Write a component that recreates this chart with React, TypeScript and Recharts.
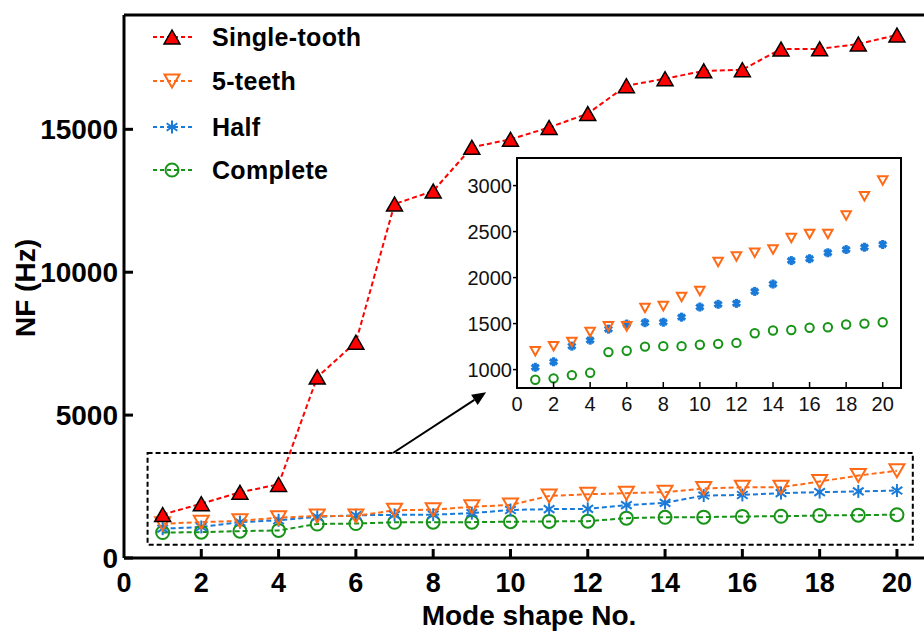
import React from "react";
import {
  LineChart,
  Line,
  XAxis,
  YAxis,
  ReferenceArea,
  ReferenceLine,
  Label,
} from "recharts";

// Natural frequency of the first 20 modes for four gear configurations
const modes = [1, 2, 3, 4, 5, 6, 7, 8, 9, 10, 11, 12, 13, 14, 15, 16, 17, 18, 19, 20];
const singleTooth = [
  1520, 1900, 2300, 2575, 6330, 7550, 12385, 12840, 14370, 14650,
  15065, 15550, 16525, 16770, 17045, 17085, 17810, 17815, 17985, 18300,
];
const fiveTeeth = [
  1200, 1255, 1300, 1410, 1470, 1470, 1670, 1690, 1790, 1855,
  2170, 2230, 2270, 2305, 2430, 2475, 2475, 2675, 2885, 3055,
];
const half = [
  1025, 1085, 1255, 1320, 1440, 1495, 1510, 1515, 1570, 1680,
  1710, 1720, 1850, 1930, 2185, 2205, 2270, 2305, 2330, 2360,
];
const complete = [
  890, 905, 940, 965, 1190, 1205, 1250, 1255, 1255, 1270,
  1280, 1290, 1395, 1425, 1430, 1455, 1460, 1490, 1500, 1515,
];

const mainXTicks = [0, 2, 4, 6, 8, 10, 12, 14, 16, 18, 20];
const mainYTicks = [0, 5000, 10000, 15000];
const insetXTicks = [0, 2, 4, 6, 8, 10, 12, 14, 16, 18, 20];
const insetYTicks = [1000, 1500, 2000, 2500, 3000];

const legendNames = ["Single-tooth", "5-teeth", "Half", "Complete"];

const data = modes.map((m, i) => ({
  mode: m,
  single: singleTooth[i],
  five: fiveTeeth[i],
  half: half[i],
  complete: complete[i],
}));

const RED = "#ff0000";
const ORANGE = "#ff6a16";
const BLUE = "#1a7ad8";
const GREEN = "#179317";
const FONT = "'Liberation Sans', Arial, Helvetica, sans-serif";

// ---- marker shapes ----
function UpTri({ cx, cy, w = 16, h = 14 }: { cx: number; cy: number; w?: number; h?: number }) {
  return (
    <polygon
      points={`${cx},${cy - h / 2} ${cx - w / 2},${cy + h / 2} ${cx + w / 2},${cy + h / 2}`}
      fill={RED}
      stroke="#000"
      strokeWidth={1.5}
      strokeLinejoin="miter"
    />
  );
}

function DownTri({ cx, cy, w = 15, h = 13, sw = 2 }: { cx: number; cy: number; w?: number; h?: number; sw?: number }) {
  return (
    <polygon
      points={`${cx - w / 2},${cy - h / 2} ${cx + w / 2},${cy - h / 2} ${cx},${cy + h / 2}`}
      fill="none"
      stroke={ORANGE}
      strokeWidth={sw}
    />
  );
}

function Star({ cx, cy, r = 6.5, sw = 2 }: { cx: number; cy: number; r?: number; sw?: number }) {
  const a = (35 * Math.PI) / 180;
  const dx = r * Math.cos(a);
  const dy = r * Math.sin(a);
  return (
    <g stroke={BLUE} strokeWidth={sw}>
      <line x1={cx} y1={cy - r} x2={cx} y2={cy + r} />
      <line x1={cx - dx} y1={cy - dy} x2={cx + dx} y2={cy + dy} />
      <line x1={cx - dx} y1={cy + dy} x2={cx + dx} y2={cy - dy} />
    </g>
  );
}

function Ring({ cx, cy, r = 6.5, sw = 2 }: { cx: number; cy: number; r?: number; sw?: number }) {
  return <circle cx={cx} cy={cy} r={r} fill="none" stroke={GREEN} strokeWidth={sw} />;
}

// ---- ticks (drawn inward on the main chart) ----
function MainYTick({ x, y, payload }: any) {
  const axisX = x + 6;
  return (
    <g>
      <line x1={axisX} x2={axisX + 9} y1={y} y2={y} stroke="#000" strokeWidth={3} />
      <text x={x} y={y} dy="0.36em" textAnchor="end" fontFamily={FONT} fontWeight="bold" fontSize={28} fill="#000">
        {payload.value}
      </text>
    </g>
  );
}

function MainXTick({ x, y, payload }: any) {
  const axisY = y - 15;
  return (
    <g>
      {payload.value !== 0 && (
        <line x1={x} x2={x} y1={axisY} y2={axisY - 9} stroke="#000" strokeWidth={3} />
      )}
      <text x={x} y={y} dy="0.71em" textAnchor="middle" fontFamily={FONT} fontWeight="bold" fontSize={27} fill="#000">
        {payload.value}
      </text>
    </g>
  );
}

function InsetYTick({ x, y, payload }: any) {
  const axisX = x + 5;
  return (
    <g>
      <line x1={axisX - 4} x2={axisX} y1={y} y2={y} stroke="#000" strokeWidth={1.5} />
      <text x={x} y={y} dy="0.36em" textAnchor="end" fontFamily={FONT} fontSize={20} fill="#111">
        {payload.value}
      </text>
    </g>
  );
}

function InsetXTick({ x, y, payload }: any) {
  const axisY = y - 9;
  return (
    <g>
      <line x1={x} x2={x} y1={axisY} y2={axisY - 6} stroke="#000" strokeWidth={1.5} />
      <text x={x} y={y} dy="0.71em" textAnchor="middle" fontFamily={FONT} fontSize={20} fill="#111">
        {payload.value}
      </text>
    </g>
  );
}

// arrow from the dashed box up to the zoomed view
function Arrow(props: any) {
  const { x1, y1, x2, y2 } = props;
  const ang = Math.atan2(y2 - y1, x2 - x1);
  const len = 14;
  const hw = 6;
  const bx = x2 - len * Math.cos(ang);
  const by = y2 - len * Math.sin(ang);
  const px = -Math.sin(ang) * hw;
  const py = Math.cos(ang) * hw;
  return (
    <g>
      <line x1={x1} y1={y1} x2={bx} y2={by} stroke="#000" strokeWidth={2} />
      <polygon points={`${x2},${y2} ${bx + px},${by + py} ${bx - px},${by - py}`} fill="#000" />
    </g>
  );
}

function LegendBlock() {
  const rows = [37, 81, 127, 170];
  const colors = [RED, ORANGE, BLUE, GREEN];
  return (
    <svg width={400} height={200} style={{ position: "absolute", left: 0, top: 0, pointerEvents: "none" }}>
      {legendNames.map((name, i) => {
        const y = rows[i];
        return (
          <g key={name}>
            <line x1={153} x2={192} y1={y} y2={y} stroke={colors[i]} strokeWidth={2} strokeDasharray="4 3" />
            {i === 0 && <UpTri cx={172} cy={y} />}
            {i === 1 && <DownTri cx={172} cy={y} />}
            {i === 2 && <Star cx={172} cy={y} />}
            {i === 3 && <Ring cx={172} cy={y} />}
            <text x={212} y={y} dy="0.36em" fontFamily={FONT} fontWeight="bold" fontSize={25} letterSpacing={0.3} fill="#000">
              {name}
            </text>
          </g>
        );
      })}
    </svg>
  );
}

export default function App() {
  return (
    <div style={{ position: "fixed", left: 0, top: 0, width: 924, height: 632, background: "#fff", overflow: "hidden" }}>
      <LineChart width={924} height={632} data={data} margin={{ top: 15, right: 0, bottom: 0, left: 0 }}>
        <XAxis
          dataKey="mode"
          type="number"
          domain={[0, 20.7]}
          ticks={mainXTicks}
          interval={0}
          height={74}
          tickSize={0}
          tickMargin={15}
          tickLine={false}
          axisLine={{ stroke: "#000", strokeWidth: 3 }}
          tick={MainXTick}
        >
          <Label
            content={() => (
              <text x={529} y={625} textAnchor="middle" fontFamily={FONT} fontWeight="bold" fontSize={28} fill="#000">
                Mode shape No.
              </text>
            )}
          />
        </XAxis>
        <YAxis
          type="number"
          domain={[0, 19000]}
          ticks={mainYTicks}
          interval={0}
          width={124}
          tickSize={0}
          tickMargin={6}
          tickLine={false}
          axisLine={{ stroke: "#000", strokeWidth: 3 }}
          tick={MainYTick}
        >
          <Label
            content={() => (
              <text
                transform="translate(25,288) rotate(-90)"
                textAnchor="middle"
                dy="0.36em"
                fontFamily={FONT}
                fontWeight="bold"
                fontSize={28}
                fill="#000"
              >
                NF (Hz)
              </text>
            )}
          />
        </YAxis>
        <ReferenceLine y={19000} stroke="#000" strokeWidth={3} />
        <ReferenceArea
          x1={0.61}
          x2={20.41}
          y1={466}
          y2={3673}
          fill="none"
          stroke="#000"
          strokeWidth={2}
          strokeDasharray="5 3"
        />
        <ReferenceLine
          segment={[
            { x: 6.96, y: 3673 },
            { x: 9.37, y: 5800 },
          ]}
          shape={Arrow}
        />
        <Line
          dataKey="complete"
          stroke={GREEN}
          strokeWidth={2}
          strokeDasharray="5 3"
          isAnimationActive={false}
          activeDot={false}
          dot={(p: any) => <Ring key={`c${p.index}`} cx={p.cx} cy={p.cy} />}
        />
        <Line
          dataKey="half"
          stroke={BLUE}
          strokeWidth={2}
          strokeDasharray="5 3"
          isAnimationActive={false}
          activeDot={false}
          dot={(p: any) => <Star key={`h${p.index}`} cx={p.cx} cy={p.cy} />}
        />
        <Line
          dataKey="five"
          stroke={ORANGE}
          strokeWidth={2}
          strokeDasharray="5 3"
          isAnimationActive={false}
          activeDot={false}
          dot={(p: any) => <DownTri key={`f${p.index}`} cx={p.cx} cy={p.cy} />}
        />
        <Line
          dataKey="single"
          stroke={RED}
          strokeWidth={2}
          strokeDasharray="5 3"
          isAnimationActive={false}
          activeDot={false}
          dot={(p: any) => <UpTri key={`s${p.index}`} cx={p.cx} cy={p.cy} />}
        />
      </LineChart>

      <LegendBlock />

      <div style={{ position: "absolute", left: 460, top: 150, width: 450, height: 270 }}>
        <LineChart width={450} height={270} data={data} margin={{ top: 8, right: 9, bottom: 0, left: 0 }}>
          <XAxis
            dataKey="mode"
            type="number"
            domain={[0, 21]}
            ticks={insetXTicks}
            interval={0}
            height={32}
            tickSize={0}
            tickMargin={9}
            tickLine={false}
            axisLine={false}
            tick={InsetXTick}
          />
          <YAxis
            type="number"
            domain={[800, 3300]}
            ticks={insetYTicks}
            interval={0}
            width={57}
            tickSize={0}
            tickMargin={5}
            tickLine={false}
            axisLine={false}
            tick={InsetYTick}
          />
          <ReferenceArea x1={0} x2={21} y1={800} y2={3300} fill="none" stroke="#000" strokeWidth={2} />
          <Line
            dataKey="complete"
            stroke="none"
            isAnimationActive={false}
            activeDot={false}
            dot={(p: any) => <Ring key={`ic${p.index}`} cx={p.cx} cy={p.cy} r={4.2} sw={2} />}
          />
          <Line
            dataKey="half"
            stroke="none"
            isAnimationActive={false}
            activeDot={false}
            dot={(p: any) => <Star key={`ih${p.index}`} cx={p.cx} cy={p.cy} r={4.5} sw={3.2} />}
          />
          <Line
            dataKey="five"
            stroke="none"
            isAnimationActive={false}
            activeDot={false}
            dot={(p: any) => <DownTri key={`if${p.index}`} cx={p.cx} cy={p.cy} w={9.5} h={8.5} sw={2} />}
          />
        </LineChart>
      </div>
    </div>
  );
}
